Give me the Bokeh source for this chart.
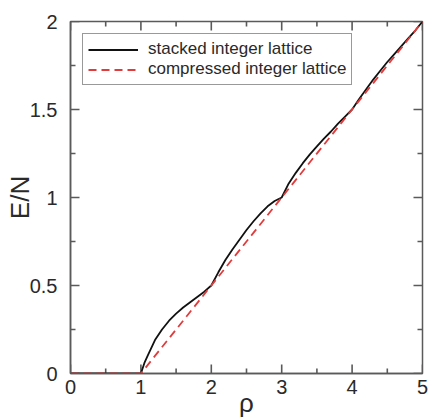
from bokeh.plotting import figure
from bokeh.models import Range1d, FixedTicker, CustomJSTickFormatter, Legend, LegendItem
from bokeh.embed import file_html
from bokeh.resources import INLINE

# ---- data ----
rho_stacked = [0.0, 1.0,
               1.05, 1.1, 1.2, 1.3, 1.4, 1.5, 1.6, 1.7, 1.8, 1.9, 2.0,
               2.1, 2.2, 2.3, 2.4, 2.5, 2.6, 2.7, 2.8, 2.9, 3.0,
               3.1, 3.2, 3.3, 3.4, 3.5, 3.6, 3.7, 3.8, 3.9, 4.0,
               4.1, 4.2, 4.3, 4.4, 4.5, 4.6, 4.7, 4.8, 4.9, 5.0]
e_stacked = [0.0, 0.0,
             0.06, 0.105, 0.19, 0.25, 0.30, 0.34, 0.375, 0.405, 0.435, 0.465, 0.5,
             0.575, 0.645, 0.705, 0.76, 0.815, 0.865, 0.91, 0.95, 0.98, 1.0,
             1.08, 1.14, 1.195, 1.245, 1.29, 1.335, 1.375, 1.42, 1.46, 1.5,
             1.56, 1.615, 1.67, 1.72, 1.77, 1.815, 1.86, 1.905, 1.95, 2.0]
rho_compressed = [0.0, 1.0, 5.0]
e_compressed = [0.0, 0.0, 2.0]

x_major = [0, 1, 2, 3, 4, 5]
x_minor = [0.5, 1.5, 2.5, 3.5, 4.5]
y_major = [0, 0.5, 1, 1.5, 2]
y_minor = [0.25, 0.75, 1.25, 1.75]

FONT = "Liberation Sans"
AX = "#5a5a5a"
TXT = "#2a2a2a"
FW, FH = 352, 352

xr = Range1d(0, 5)
yr = Range1d(0, 2)
p = figure(frame_width=FW, frame_height=FH, output_backend="svg", toolbar_location=None,
           x_range=xr, y_range=yr,
           min_border_left=70, min_border_right=6, min_border_top=21, min_border_bottom=44,
           x_axis_label="ρ", y_axis_label="E/N")
p.grid.visible = False
p.outline_line_color = AX
p.outline_line_width = 1.5
p.background_fill_color = "white"
p.border_fill_color = "white"

fmt = CustomJSTickFormatter(code="return String(Math.round(tick*100)/100)")

for ax, ticks, minor in ((p.xaxis[0], x_major, x_minor), (p.yaxis[0], y_major, y_minor)):
    ax.ticker = FixedTicker(ticks=ticks, minor_ticks=minor)
    ax.formatter = fmt
    ax.axis_line_color = AX
    ax.axis_line_width = 1.5
    ax.major_tick_line_color = None
    ax.minor_tick_line_color = None
    ax.major_label_text_font = FONT
    ax.major_label_text_color = TXT
    ax.major_label_text_font_size = "20px"
    ax.axis_label_text_font = FONT
    ax.axis_label_text_color = TXT
    ax.axis_label_text_font_style = "normal"
    ax.axis_label_text_font_size = "26px"

p.xaxis[0].major_label_standoff = 0
p.xaxis[0].axis_label_standoff = -9
p.yaxis[0].major_label_standoff = 7
p.yaxis[0].axis_label_standoff = -8

# inward ticks on all four sides (mirrored), drawn from the tick lists
x0, x1, y0, y1 = xr.start, xr.end, yr.start, yr.end
dx = (x1 - x0) / FW   # data units per pixel
dy = (y1 - y0) / FH
MAJ, MIN = 9, 5
TW = 1.6

def vt(xs, length):
    p.segment(x0=xs, y0=[y0] * len(xs), x1=xs, y1=[y0 + length * dy] * len(xs),
              line_color=AX, line_width=TW)
    p.segment(x0=xs, y0=[y1] * len(xs), x1=xs, y1=[y1 - length * dy] * len(xs),
              line_color=AX, line_width=TW)

def ht(ys, length):
    p.segment(x0=[x0] * len(ys), y0=ys, x1=[x0 + length * dx] * len(ys), y1=ys,
              line_color=AX, line_width=TW)
    p.segment(x0=[x1] * len(ys), y0=ys, x1=[x1 - length * dx] * len(ys), y1=ys,
              line_color=AX, line_width=TW)

vt(x_major, MAJ)
vt(x_minor, MIN)
ht(y_major, MAJ)
ht(y_minor, MIN)

r1 = p.line(rho_stacked, e_stacked, line_color="#111111", line_width=1.8)
r2 = p.line(rho_compressed, e_compressed, line_color="#e03c3c", line_width=1.8,
            line_dash="8 5")

legend = Legend(items=[LegendItem(label="stacked integer lattice", renderers=[r1]),
                       LegendItem(label="compressed integer lattice", renderers=[r2])],
                location="top_left")
legend.margin = 12
legend.padding = 5
legend.spacing = 0
legend.glyph_width = 50
legend.glyph_height = 19
legend.label_height = 19
legend.label_standoff = 10
legend.label_text_font = FONT
legend.label_text_font_size = "17px"
legend.label_text_color = TXT
legend.border_line_color = "#333333"
legend.border_line_width = 1.3
legend.background_fill_alpha = 1
p.add_layout(legend)

open("out.html", "w").write(file_html(p, INLINE))
